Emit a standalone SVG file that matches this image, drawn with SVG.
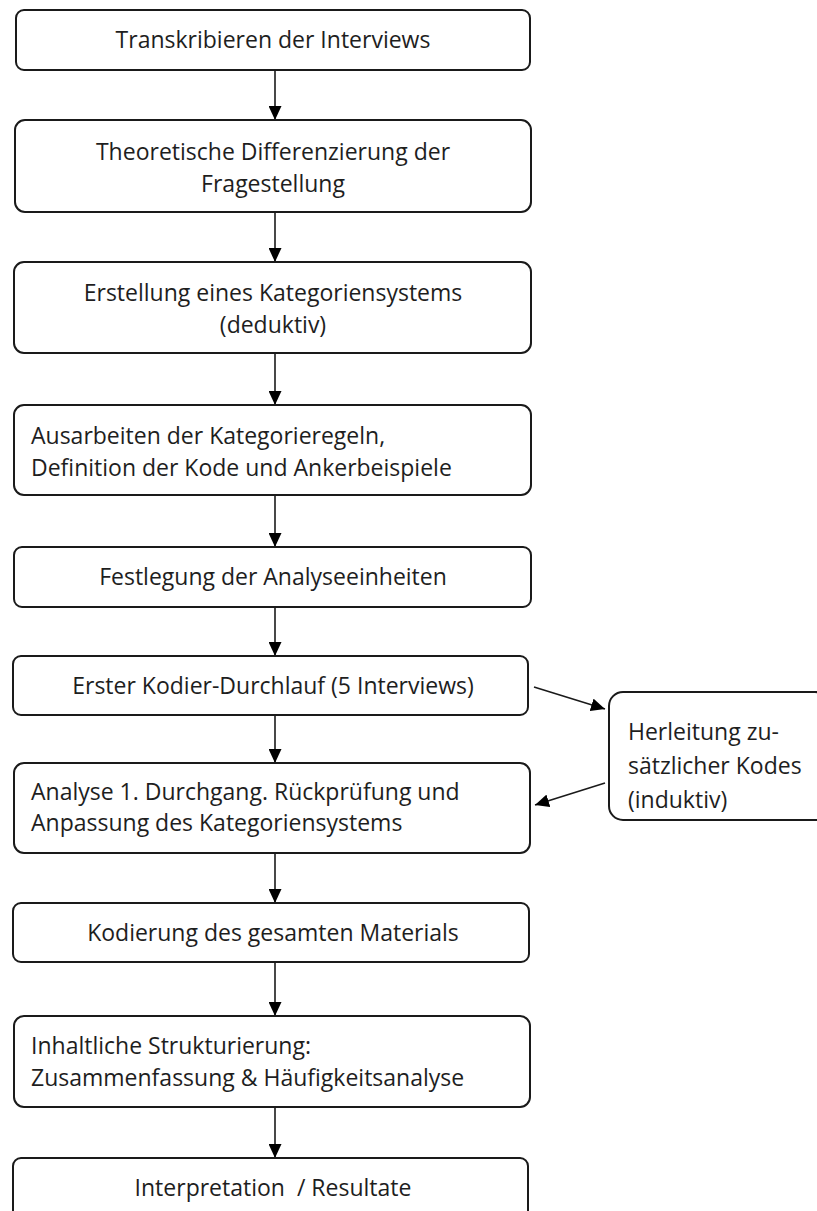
<svg xmlns="http://www.w3.org/2000/svg" width="817" height="1211" viewBox="0 0 817 1211">
<style>
.box{fill:#fff;stroke:#1a1a1a;stroke-width:2}
.t{font-family:"Open Sans","Noto Sans",sans-serif;font-size:23px;fill:#1e1e1e}
.c{text-anchor:middle}
.con{stroke:#1a1a1a;stroke-width:1.6;fill:none;marker-end:url(#ah)}
</style>
<defs>
<marker id="ah" viewBox="0 0 14 13" refX="14" refY="6.5" markerWidth="14" markerHeight="13" markerUnits="userSpaceOnUse" orient="auto">
<path d="M0,0 L14,6.5 L0,13 Z" fill="#000"/>
</marker>
</defs>
<rect width="817" height="1211" fill="#fff"/>
<g id="connectors">
<line class="con" x1="275" y1="70" x2="275" y2="120"/>
<line class="con" x1="275" y1="212" x2="275" y2="262"/>
<line class="con" x1="275" y1="353" x2="275" y2="405"/>
<line class="con" x1="275" y1="495" x2="275" y2="547"/>
<line class="con" x1="275" y1="607" x2="275" y2="656"/>
<line class="con" x1="275" y1="715" x2="275" y2="763"/>
<line class="con" x1="275" y1="853" x2="275" y2="903"/>
<line class="con" x1="275" y1="962" x2="275" y2="1016"/>
<line class="con" x1="275" y1="1107" x2="275" y2="1158"/>
<line class="con" x1="534" y1="687" x2="605" y2="709"/>
<line class="con" x1="605" y1="783" x2="535" y2="805"/>
</g>
<g id="n1"><rect class="box" x="16" y="10" width="514" height="60" rx="8"/><text class="t c" x="273" y="48">Transkribieren der Interviews</text></g>
<g id="n2"><rect class="box" x="15" y="120" width="516" height="92" rx="10"/><text class="t c" x="273" y="160">Theoretische Differenzierung der</text><text class="t c" x="273" y="192">Fragestellung</text></g>
<g id="n3"><rect class="box" x="14" y="262" width="517" height="91" rx="10"/><text class="t c" x="273" y="301">Erstellung eines Kategoriensystems</text><text class="t c" x="273" y="333">(deduktiv)</text></g>
<g id="n4"><rect class="box" x="14" y="405" width="517" height="90" rx="10"/><text class="t" x="31" y="444">Ausarbeiten der Kategorieregeln,</text><text class="t" x="31" y="476">Definition der Kode und Ankerbeispiele</text></g>
<g id="n5"><rect class="box" x="14" y="547" width="517" height="60" rx="8"/><text class="t c" x="273" y="585">Festlegung der Analyseeinheiten</text></g>
<g id="n6"><rect class="box" x="13" y="656" width="515" height="59" rx="8"/><text class="t c" x="273" y="694">Erster Kodier-Durchlauf (5 Interviews)</text></g>
<g id="n7"><rect class="box" x="14" y="763" width="516" height="90" rx="10"/><text class="t" x="31" y="800">Analyse 1. Durchgang. Rückprüfung und</text><text class="t" x="31" y="831">Anpassung des Kategoriensystems</text></g>
<g id="n_side"><rect class="box" x="609" y="692" width="220" height="128" rx="14"/><text class="t" x="628" y="740">Herleitung zu-</text><text class="t" x="628" y="774">sätzlicher Kodes</text><text class="t" x="628" y="808">(induktiv)</text></g>
<g id="n8"><rect class="box" x="13" y="903" width="516" height="59" rx="8"/><text class="t c" x="273" y="941">Kodierung des gesamten Materials</text></g>
<g id="n9"><rect class="box" x="14" y="1016" width="516" height="91" rx="10"/><text class="t" x="31" y="1054">Inhaltliche Strukturierung:</text><text class="t" x="31" y="1086">Zusammenfassung &amp; Häufigkeitsanalyse</text></g>
<g id="n10"><rect class="box" x="13" y="1158" width="515" height="70" rx="8"/><text class="t c" x="273" y="1196" xml:space="preserve">Interpretation  / Resultate</text></g>
</svg>
